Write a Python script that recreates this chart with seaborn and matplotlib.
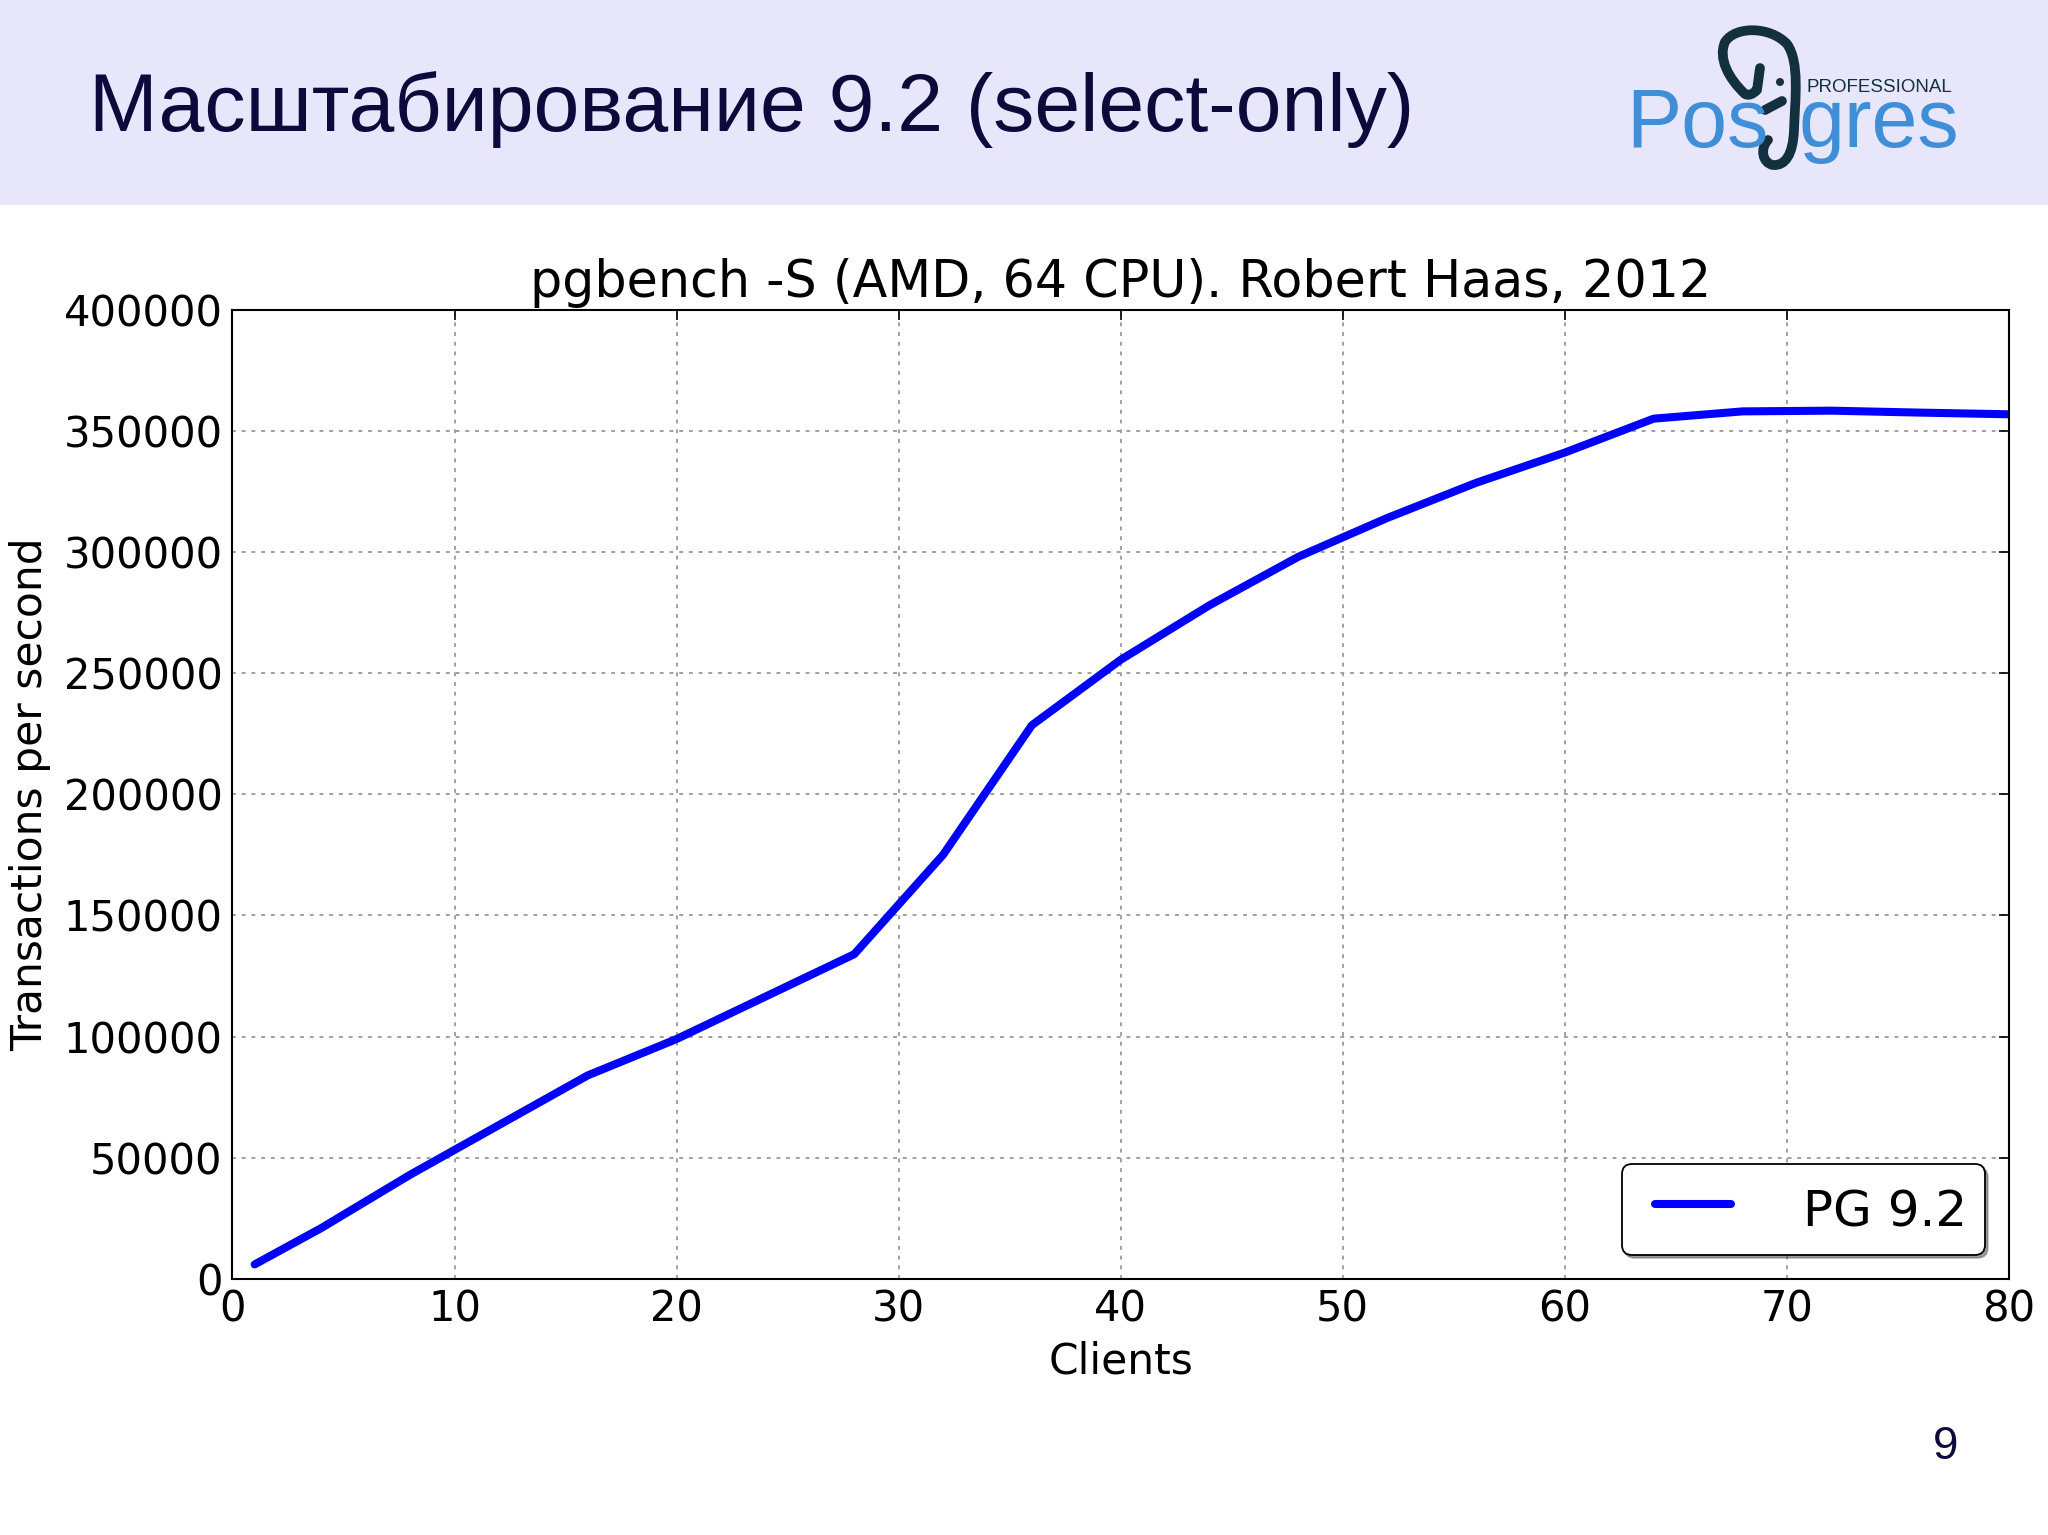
import matplotlib
matplotlib.use("Agg")
import matplotlib.pyplot as plt
from matplotlib.patches import Rectangle, PathPatch, Circle
from matplotlib.path import Path
from matplotlib.transforms import Affine2D
from matplotlib.lines import Line2D
from matplotlib.legend_handler import HandlerLine2D
import seaborn as sns
import pandas as pd

# ---- data ----
clients = [1, 4, 8, 12, 16, 20, 24, 28, 32, 36, 40, 44, 48, 52, 56, 60, 64, 68, 72, 76, 80]
tps = [6000, 21000, 43000, 63500, 84000, 99000, 116500, 134000, 175000, 228500,
       255500, 278000, 298000, 314000, 328500, 341000, 355000, 358000, 358300, 357500, 356800]
series_name = "PG 9.2"
x_ticks = [0, 10, 20, 30, 40, 50, 60, 70, 80]
y_ticks = [0, 50000, 100000, 150000, 200000, 250000, 300000, 350000, 400000]

slide_title = "Масштабирование 9.2 (select-only)"
chart_title = "pgbench -S (AMD, 64 CPU). Robert Haas, 2012"
x_label = "Clients"
y_label = "Transactions per second"
page_no = "9"

df = pd.DataFrame({"Clients": clients, "TPS": tps, "series": series_name})

sns.set_style("white", {
    "axes.edgecolor": "black",
    "axes.labelcolor": "black",
    "text.color": "black",
    "xtick.color": "black",
    "ytick.color": "black",
    "xtick.direction": "in",
    "ytick.direction": "in",
    "xtick.top": True,
    "ytick.right": True,
})
plt.rcParams["font.family"] = ["DejaVu Sans"]

W, H = 2048, 1535
fig = plt.figure(figsize=(W / 100, H / 100), dpi=100)
fig.patch.set_facecolor("white")

# header band
fig.patches.append(Rectangle((0, 1 - 205 / H), 1, 205 / H, transform=fig.transFigure,
                             facecolor="#e8e6fb", edgecolor="none", zorder=0))
fig.text(89 / W, 1 - 131 / H, slide_title, fontsize=59.3, color="#0b0a3a",
         family=["Liberation Sans Narrow", "Liberation Sans", "DejaVu Sans"],
         ha="left", va="baseline")

# logo
logo_blue = "#3e8fd8"
logo_dark = "#13303f"
fig.text(1626 / W, 1 - 147 / H, "Pos", fontsize=59.5, color=logo_blue,
         family=["Liberation Sans", "DejaVu Sans"], ha="left", va="baseline")
fig.text(1799 / W, 1 - 147 / H, "gres", fontsize=59.5, color=logo_blue,
         family=["Liberation Sans", "DejaVu Sans"], ha="left", va="baseline")
fig.text(1806 / W, 1 - 92 / H, "PROFESSIONAL", fontsize=13.5, color=logo_dark,
         family=["Liberation Sans", "DejaVu Sans"], ha="left", va="baseline")

# elephant mark (pixel coords, y down) -> figure pixels
pix = Affine2D().scale(1, -1).translate(0, H)
verts = [(1760, 68), (1757, 90), (1750, 97), (1745, 94),
         (1728, 78), (1718, 58), (1725, 42),
         (1735, 26), (1770, 26), (1787, 44),
         (1800, 62), (1795, 100), (1794, 130),
         (1793, 155), (1785, 166), (1773, 165),
         (1762, 163), (1760, 148), (1768, 140)]
codes = [Path.MOVETO, Path.LINETO, Path.CURVE3, Path.CURVE3,
         Path.CURVE4, Path.CURVE4, Path.CURVE4,
         Path.CURVE4, Path.CURVE4, Path.CURVE4,
         Path.CURVE4, Path.CURVE4, Path.CURVE4,
         Path.CURVE4, Path.CURVE4, Path.CURVE4,
         Path.CURVE4, Path.CURVE4, Path.CURVE4]
fig.patches.append(PathPatch(Path(verts, codes), transform=pix, facecolor="none",
                             edgecolor=logo_dark, linewidth=7, capstyle="round",
                             joinstyle="round", zorder=3))
fig.patches.append(PathPatch(Path([(1765, 110), (1782, 101)]), transform=pix,
                             facecolor="none", edgecolor=logo_dark, linewidth=7,
                             capstyle="round", zorder=3))
fig.patches.append(Circle((1780, 82), 4, transform=pix, facecolor=logo_dark,
                          edgecolor="none", zorder=3))

# page number
fig.text(1946 / W, 1 - 1447 / H, page_no, fontsize=33, color="#0b0a3a",
         family=["Liberation Sans", "DejaVu Sans"], ha="center", va="center")

# chart
ax = fig.add_axes([0.1135, 0.1668, 0.8674, 0.6315])
sns.lineplot(data=df, x="Clients", y="TPS", hue="series", palette=["#0000ff"],
             linewidth=5.8, ax=ax)
ax.set_xlim(0, 80)
ax.set_ylim(0, 400000)
ax.set_xticks(x_ticks)
ax.set_yticks(y_ticks)
ax.set_xticklabels([str(v) for v in x_ticks])
ax.set_yticklabels([str(v) for v in y_ticks])
ax.tick_params(labelsize=30, length=7, width=1.2, colors="black", pad=7)
ax.grid(True, linestyle=(0, (2, 3)), color="#a0a0a0", linewidth=1.4)
for s in ax.spines.values():
    s.set_linewidth(1.5)
    s.set_color("black")
ax.set_xlabel(x_label, fontsize=30.5, labelpad=7, color="black")
ax.set_ylabel(y_label, fontsize=30.5, labelpad=9, color="black")
ax.set_title(chart_title, fontsize=36.5, pad=9, color="black")

handles, labels = ax.get_legend_handles_labels()
leg = ax.legend(handles, [series_name] * len(handles), loc="lower right",
                fontsize=36, fancybox=True, shadow=True,
                handlelength=1.82, handletextpad=1.44, borderpad=0.36,
                handleheight=1.3,
                borderaxespad=0.48, frameon=True, edgecolor="black", framealpha=1,
                handler_map={Line2D: HandlerLine2D(xpad=0.3)})
leg.get_frame().set_linewidth(1.3)
for t in leg.get_texts():
    t.set_color("black")

fig.savefig("out.png", dpi=100)
